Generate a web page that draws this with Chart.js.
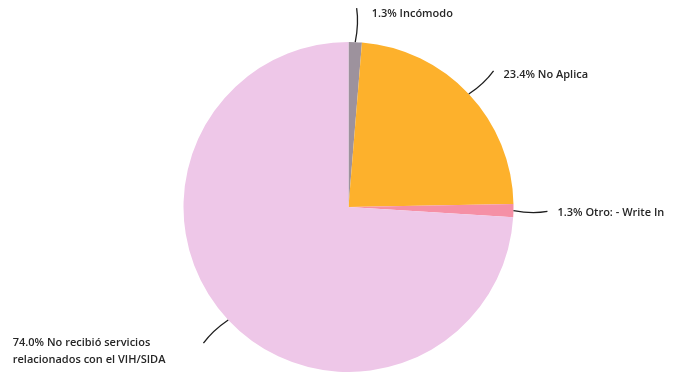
<!DOCTYPE html>
<html lang="es">
<head>
    <meta charset="UTF-8">
    <title>Pie chart</title>
    <script src="https://cdn.jsdelivr.net/npm/chart.js"></script>
    <style>
        html, body { margin: 0; padding: 0; background: #ffffff; }
        #wrap { width: 673px; height: 372px; position: relative; }
    </style>
</head>
<body>
    <div id="wrap"><canvas id="pie"></canvas></div>

    <script>
        // data, clockwise from the top
        const categories = ['Incómodo', 'No Aplica', 'Otro: - Write In', 'No recibió servicios relacionados con el VIH/SIDA'];
        const percents = [1.3, 23.4, 1.3, 74.0];
        // label lines as printed (the long one wraps onto two lines)
        const labelLines = [
            ['1.3% Incómodo'],
            ['23.4% No Aplica'],
            ['1.3% Otro: - Write In'],
            ['74.0% No recibió servicios', 'relacionados con el VIH/SIDA']
        ];
        const sliceColors = ['#9d929d', '#fdb12c', '#f590a6', '#eec7e8'];

        // draws the leader lines and labels outside the slices
        const outsideLabels = {
            id: 'outsideLabels',
            afterDraw(chart) {
                const ctx = chart.ctx;
                const arcs = chart.getDatasetMeta(0).data;
                ctx.save();
                ctx.font = '600 11px "Open Sans", sans-serif';
                ctx.fillStyle = '#262626';
                ctx.strokeStyle = '#1e1e1e';
                ctx.lineWidth = 1.3;
                arcs.forEach((arc, i) => {
                    const mid = (arc.startAngle + arc.endAngle) / 2;
                    const dx = Math.cos(mid), dy = Math.sin(mid);
                    const r = arc.outerRadius;
                    const sx = arc.x + dx * r, sy = arc.y + dy * r;
                    const len = 34;
                    const ex = sx + dx * len, ey = sy + dy * len;
                    // slight bend, like the hand-drawn look of the original
                    const cx = sx + dx * len * 0.55 - dy * 3;
                    const cy = sy + dy * len * 0.55 + dx * 3;
                    ctx.beginPath();
                    ctx.moveTo(sx, sy);
                    ctx.quadraticCurveTo(cx, cy, ex, ey);
                    ctx.stroke();

                    const lines = labelLines[i];
                    const lh = 17;
                    ctx.textBaseline = 'middle';
                    ctx.textAlign = 'left';
                    if (dx >= 0) {
                        let tx, ty;
                        if (Math.abs(dy) > 0.9) { tx = ex + 15; ty = ey + 6; }
                        else { tx = ex + 10; ty = ey + 1 + Math.abs(dy) * 4; }
                        lines.forEach((t, k) => ctx.fillText(t, tx, ty + k * lh));
                    } else {
                        const w = Math.max(...lines.map(t => ctx.measureText(t).width));
                        const tx = ex - 38 - w;
                        lines.forEach((t, k) => ctx.fillText(t, tx, ey + k * lh));
                    }
                });
                ctx.restore();
            }
        };

        new Chart(document.getElementById('pie'), {
            type: 'pie',
            data: {
                labels: categories,
                datasets: [{
                    data: percents,
                    backgroundColor: sliceColors,
                    borderWidth: 0
                }]
            },
            options: {
                responsive: true,
                maintainAspectRatio: false,
                animation: false,
                layout: { padding: { top: 42, bottom: 0, left: 24, right: 0 } },
                plugins: {
                    legend: { display: false },
                    tooltip: { enabled: false }
                }
            },
            plugins: [outsideLabels]
        });
    </script>
</body>
</html>
